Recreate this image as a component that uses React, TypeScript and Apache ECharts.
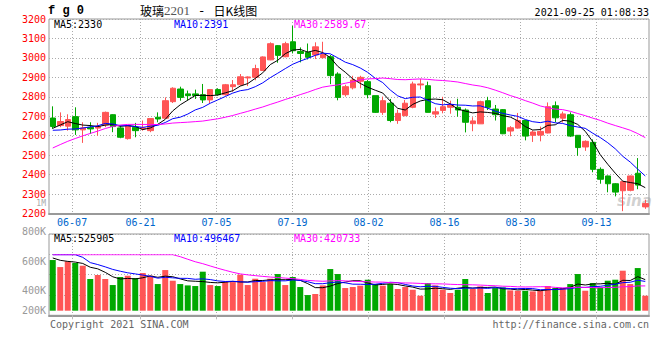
import React, { useEffect, useRef } from 'react';
import * as echarts from 'echarts';

// ---- data ----
const dates = ['06-02','06-03','06-04','06-07','06-08','06-09','06-10','06-11','06-15','06-16','06-17','06-18','06-21','06-22','06-23','06-24','06-25','06-28','06-29','06-30',
  '07-01','07-02','07-05','07-06','07-07','07-08','07-09','07-12','07-13','07-14','07-15','07-16','07-19','07-20','07-21','07-22','07-23','07-26','07-27','07-28','07-29','07-30',
  '08-02','08-03','08-04','08-05','08-06','08-09','08-10','08-11','08-12','08-13','08-16','08-17','08-18','08-19','08-20','08-23','08-24','08-25','08-26','08-27','08-30','08-31',
  '09-01','09-02','09-03','09-06','09-07','09-08','09-09','09-10','09-13','09-14','09-15','09-16','09-17','09-22','09-23','09-24'];

const opens = [2691,2652,2649,2698,2630, 2643,2639,2656,2708,2640, 2585,2643,2635,2626,2695, 2690,2775,2840,2815,2815,
  2811,2784,2837,2811,2852, 2862,2897,2900,2935,2990, 3063,3006,3083,3033,3028, 3015,3001,3006,2917,2811,
  2846,2880,2878,2806,2720, 2767,2678,2703,2746,2861, 2857,2711,2730,2746,2746, 2732,2662,2661,2780,2737,
  2734,2624,2639,2678,2602, 2603,2614,2754,2690,2708, 2602,2542,2566,2427,2393, 2353,2317,2319,2407,2234];
const closes = [2647,2673,2683,2630,2640, 2635,2647,2720,2647,2592, 2652,2626,2640,2688,2686, 2780,2844,2797,2806,2807,
  2784,2837,2811,2862,2862, 2903,2902,2945,3005,3073, 3013,3073,3037,3023,3003, 3057,3017,2909,2797,2852,
  2886,2900,2811,2720,2780, 2678,2715,2767,2866,2866, 2720,2723,2749,2760,2732, 2669,2676,2775,2746,2708,
  2610,2641,2678,2598,2619, 2622,2749,2692,2712,2598, 2539,2571,2427,2376,2353, 2310,2364,2393,2346,2251];
const highs = [2751,2720,2710,2746,2669, 2669,2666,2724,2710,2652, 2655,2666,2678,2690,2720, 2797,2849,2852,2832,2837,
  2866,2837,2844,2866,2886, 2917,2905,2965,3008,3080, 3066,3083,3165,3054,3074, 3080,3083,3015,2926,2862,
  2908,2908,2886,2806,2801, 2789,2734,2784,2878,2892, 2878,2745,2800,2780,2790, 2740,2695,2780,2800,2758,
  2737,2649,2717,2680,2627, 2647,2771,2776,2724,2720, 2602,2576,2581,2437,2395, 2356,2366,2395,2485,2271];
const lows = [2635,2644,2626,2604,2563, 2609,2600,2644,2618,2587, 2580,2592,2626,2618,2669, 2686,2768,2780,2780,2789,
  2768,2768,2806,2806,2826, 2857,2855,2885,2933,2988, 2975,3003,3023,2977,2992, 2994,2998,2865,2782,2801,
  2838,2844,2792,2717,2707, 2669,2661,2700,2741,2837, 2720,2691,2715,2713,2698, 2617,2623,2661,2732,2678,
  2608,2597,2636,2576,2568, 2571,2612,2669,2668,2593, 2497,2522,2412,2353,2309, 2288,2212,2314,2325,2224];
// volume, thousands of lots
const volumesK = [865,745,842,814,768, 541,609,541,438,575, 597,558,643,597,455, 694,512,455,432,421,
  666,438,421,489,489, 615,438,546,489,546, 626,438,575,404,267, 285,432,711,626,387,
  404,427,529,455,427, 455,370,404,358,256, 472,432,358,302,358, 541,370,415,302,387,
  398,347,341,341,330, 347,421,387,387,455, 626,341,472,398,512, 529,683,455,728,256];

// 29 sessions before the visible window (estimated from the moving-average curves)
const preCloses = [2150,2180,2200,2230,2260,2290,2320,2330,2367, 2560,2620,2650,2690,2700,2696,
  2700,2730,2740,2720,2697, 2660,2640,2620,2590,2580, 2588,2598,2677,2680];
const preVolumesK = [1050,1100,980,1150,1200,1080,1120,1250,1300,1180,1220,1350,1400,1280,1450,1500,
  1800,1750,1700,1650,1620,1580,1540,1500,1441, 945,932,874,884];

const priceLegend = ['MA5:2330', 'MA10:2391', 'MA30:2589.67'];
const volumeLegend = ['MA5:525905', 'MA10:496467', 'MA30:420733'];
const xTickDates = ['06-07','06-21','07-05','07-19','08-02','08-16','08-30','09-13'];
const volTickValues = [265000, 400000, 600000, 800000, 1000000];
const volTickLabels = ['200K', '400K', '600K', '800K', '1M'];
const VOL_MAX = 956000;

const UP = '#FF5555';
const DOWN = '#00A800';
const MONO = '"DejaVu Sans Mono", monospace';
const GRID_LINE = { color: '#ababab', type: [1, 2] as any, width: 1 };

function movingAverage(pre: number[], cur: number[], n: number): number[] {
  const all = pre.concat(cur);
  return cur.map((_, i) => {
    const end = pre.length + i;
    let s = 0;
    for (let k = end - n + 1; k <= end; k++) s += all[k];
    return s / n;
  });
}

export default function App() {
  const ref = useRef<HTMLDivElement>(null);
  useEffect(() => {
    if (!ref.current) return;
    const chart = echarts.init(ref.current, null, { renderer: 'svg' });

    const volumes = volumesK.map(v => v * 1000);
    const preVolumes = preVolumesK.map(v => v * 1000);
    const candles = dates.map((_, i) => [opens[i], closes[i], lows[i], highs[i]]);
    const pMA = [5, 10, 30].map(n => movingAverage(preCloses, closes, n));
    const vMA = [5, 10, 30].map(n => movingAverage(preVolumes, volumes, n).map(v => Math.min(v, VOL_MAX)));
    const maColors = ['#000000', '#0000FF', '#FF00FF'];
    const xTickPos = xTickDates.map(d => dates.indexOf(d) * 76 / 75 + 0.04);
    const xFmt = (v: number) => {
      const k = xTickPos.findIndex(p => Math.abs(p - v) < 1e-6);
      return k >= 0 ? xTickDates[k] : '';
    };
    const volFmt = (v: number) => {
      const k = volTickValues.indexOf(v);
      if (k < 0) return '';
      return k === volTickValues.length - 1 ? `{s|${volTickLabels[k]}}` : volTickLabels[k];
    };

    const gridL = 49, gridR = 11;
    const option: any = {
      animation: false,
      backgroundColor: '#ffffff',
      grid: [
        { left: gridL, right: gridR, top: 19, height: 194.5, show: true, borderColor: '#999', borderWidth: 1, backgroundColor: 'transparent' },
        { left: gridL, right: gridR, top: 254.7, height: 56 },
        { left: gridL, right: gridR, top: 234, height: 81.3, show: true, borderColor: '#999', borderWidth: 1, backgroundColor: 'transparent' },
        { left: gridL, right: gridR, top: 202.4, height: 117.2 },
      ],
      xAxis: [
        { gridIndex: 0, type: 'category', data: dates, boundaryGap: true, axisLine: { show: false }, axisTick: { show: false }, axisLabel: { show: false }, splitLine: { show: false } },
        { gridIndex: 0, type: 'value', min: 0, max: 80, position: 'bottom',
          axisLine: { show: true, lineStyle: { color: '#999', width: 2 } },
          axisTick: { show: false, customValues: xTickPos },
          axisLabel: { customValues: xTickPos, formatter: xFmt, color: '#0066CC', fontFamily: MONO, fontSize: 10, margin: 4 },
          splitLine: { show: true, lineStyle: GRID_LINE } },
        { gridIndex: 1, type: 'category', data: dates, boundaryGap: true, axisLine: { show: false }, axisTick: { show: false }, axisLabel: { show: false }, splitLine: { show: false } },
        { gridIndex: 2, type: 'value', min: 0, max: 80, position: 'bottom',
          axisLine: { show: true, lineStyle: { color: '#999', width: 2 } },
          axisTick: { show: true, length: 4, customValues: xTickPos, lineStyle: { color: '#bbb' } },
          axisLabel: { show: false, customValues: xTickPos },
          splitLine: { show: true, lineStyle: GRID_LINE } },
        { gridIndex: 3, type: 'value', min: 0, max: 1, show: false },
      ],
      yAxis: [
        { gridIndex: 0, type: 'value', min: 2200, max: 3200, interval: 100,
          axisLine: { show: false }, axisTick: { show: false },
          axisLabel: { formatter: (v: number) => String(v), color: '#FF0000', fontFamily: MONO, fontSize: 10, margin: 3, lineHeight: 8, padding: [0, 0, 2, 0] },
          splitLine: { show: true, lineStyle: GRID_LINE } },
        { gridIndex: 1, type: 'value', min: 0, max: VOL_MAX, show: false, splitLine: { show: false } },
        { gridIndex: 2, type: 'value', min: 0, max: 4, interval: 1,
          axisLine: { show: false }, axisTick: { show: false }, axisLabel: { show: false },
          splitLine: { show: true, lineStyle: GRID_LINE } },
        { gridIndex: 3, type: 'value', min: 200000, max: 1000000,
          axisLine: { show: false }, axisTick: { show: false }, splitLine: { show: false },
          axisLabel: { customValues: volTickValues, formatter: volFmt,
            color: '#999', fontFamily: MONO, fontSize: 10, margin: 3, lineHeight: 8,
            rich: { s: { color: '#aaa', fontFamily: MONO, fontSize: 8, lineHeight: 7, padding: [3, 0, 0, 0] } } } },
      ],
      series: [
        { type: 'candlestick', xAxisIndex: 0, yAxisIndex: 0, data: candles, barWidth: 6,
          itemStyle: { color: UP, color0: DOWN, borderColor: UP, borderColor0: DOWN, borderWidth: 1 } },
        ...pMA.map((d, k) => ({ type: 'line', xAxisIndex: 0, yAxisIndex: 0, data: d, showSymbol: false, symbol: 'none',
          lineStyle: { color: maColors[k], width: 1 }, z: 3 })),
        { type: 'bar', xAxisIndex: 2, yAxisIndex: 1, barWidth: 6,
          data: volumes.map((v, i) => ({ value: v, itemStyle: { color: closes[i] >= opens[i] ? UP : DOWN } })) },
        ...vMA.map((d, k) => ({ type: 'line', xAxisIndex: 2, yAxisIndex: 1, data: d, showSymbol: false, symbol: 'none',
          lineStyle: { color: maColors[k], width: 1 }, z: 3 })),
      ],
      graphic: [
        { type: 'text', x: 48, y: 10.5, style: { text: 'f g 0', fill: '#000', fontFamily: '"Liberation Mono", monospace', fontWeight: 'bold', fontSize: 12, verticalAlign: 'middle', lineHeight: 12 } },
        { type: 'text', x: 140, y: 10.5, style: { text: '{a|玻璃}{b|2201}{c| - }{a|日K线图}', verticalAlign: 'middle',
          rich: {
            a: { fill: '#000', fontFamily: '"Noto Sans CJK SC"', fontSize: 12, lineHeight: 12 },
            b: { fill: '#555', fontFamily: '"Liberation Serif", serif', fontSize: 13, lineHeight: 12 },
            c: { fill: '#000', fontFamily: MONO, fontSize: 13, lineHeight: 12 },
          } } },
        { type: 'text', x: 649, y: 12, style: { text: '2021-09-25 01:08:33', fill: '#000', fontFamily: MONO, fontSize: 10, align: 'right', verticalAlign: 'middle', lineHeight: 10 } },
        ...priceLegend.map((t, k) => ({ type: 'text', x: 54 + 120 * k, y: 24, z: 10,
          style: { text: t, fill: maColors[k], fontFamily: MONO, fontSize: 10, verticalAlign: 'middle', lineHeight: 10 } })),
        ...volumeLegend.map((t, k) => ({ type: 'text', x: 54 + 120 * k, y: 238.5, z: 10,
          style: { text: t, fill: maColors[k], fontFamily: MONO, fontSize: 10, verticalAlign: 'middle', lineHeight: 10 } })),
        { type: 'text', x: 617, y: 201, z: 1, style: { text: 'sina', fill: 'rgba(150,150,150,0.45)', fontFamily: '"DejaVu Sans"', fontStyle: 'italic', fontWeight: 'bold', fontSize: 15, verticalAlign: 'middle' } },
        { type: 'text', x: 50, y: 324, style: { text: 'Copyright 2021 SINA.COM', fill: '#666', fontFamily: MONO, fontSize: 10, verticalAlign: 'middle', lineHeight: 10 } },
        { type: 'text', x: 649, y: 324, style: { text: 'http://finance.sina.com.cn', fill: '#666', fontFamily: MONO, fontSize: 10, align: 'right', verticalAlign: 'middle', lineHeight: 10 } },
      ],
    };
    chart.setOption(option);
    return () => chart.dispose();
  }, []);
  return <div ref={ref} style={{ position: 'fixed', left: 0, top: 0, width: 660, height: 360, background: '#fff' }} />;
}
